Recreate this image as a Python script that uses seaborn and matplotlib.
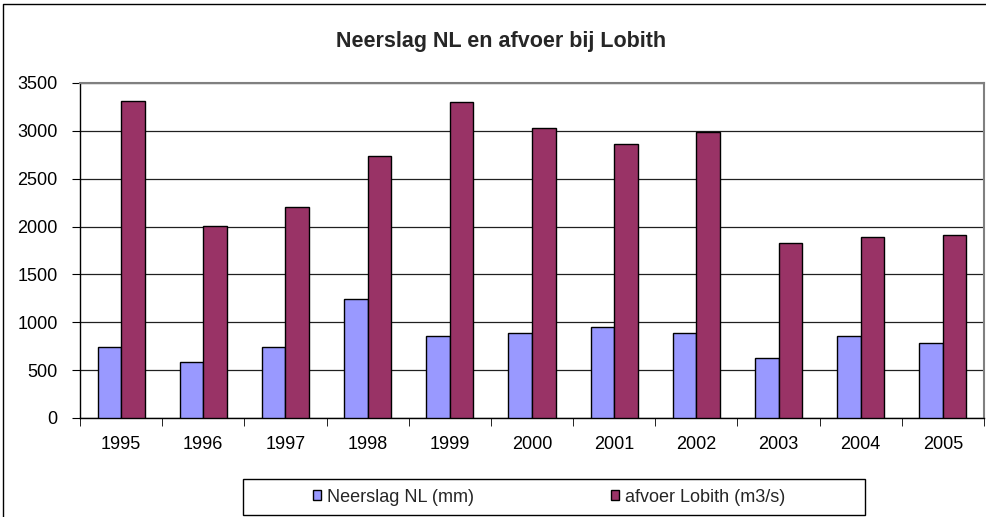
import pandas as pd
import seaborn as sns
import matplotlib.pyplot as plt
from matplotlib.patches import Rectangle
from matplotlib.lines import Line2D

# Data
jaren = ["1995", "1996", "1997", "1998", "1999", "2000",
         "2001", "2002", "2003", "2004", "2005"]
neerslag = [738, 580, 738, 1245, 860, 888, 951, 888, 629, 860, 783]
afvoer = [3310, 2003, 2203, 2741, 3297, 3031, 2867, 2993, 1832, 1895, 1913]

serie_namen = ["Neerslag NL (mm)", "afvoer Lobith (m3/s)"]
kleuren = ["#9999FF", "#993366"]

df = pd.DataFrame({"Jaar": jaren, serie_namen[0]: neerslag, serie_namen[1]: afvoer})
df_long = df.melt(id_vars="Jaar", var_name="Serie", value_name="Waarde")

sns.set_style("white")
plt.rcParams["font.family"] = ["Liberation Sans", "DejaVu Sans"]

W, H = 987, 517
fig = plt.figure(figsize=(W / 100, H / 100), dpi=100)
ax = fig.add_axes([80 / W, 1 - 418 / H, 904 / W, 335 / H])

sns.barplot(data=df_long, x="Jaar", y="Waarde", hue="Serie",
            palette=kleuren, width=0.572, gap=0, edgecolor="black",
            linewidth=1, saturation=1, ax=ax, legend=False, zorder=3)

ax.set_ylim(0, 3500)
ax.set_xlim(-0.5, len(jaren) - 0.5)
ax.set_yticks(range(0, 3501, 500))
ax.yaxis.grid(True, color="#202020", linewidth=0.9, zorder=0)
ax.set_xlabel("")
ax.set_ylabel("")
ax.tick_params(axis="x", which="major", length=0, labelsize=13, pad=13, colors="black")
ax.tick_params(axis="y", length=6, labelsize=13, pad=10, colors="black", left=True)
ax.set_xticks([i - 0.5 for i in range(len(jaren) + 1)], minor=True)
ax.tick_params(axis="x", which="minor", length=6, color="black", bottom=True, direction="out")

for kant in ["left", "bottom"]:
    ax.spines[kant].set_color("black")
    ax.spines[kant].set_linewidth(1)
for kant in ["top", "right"]:
    ax.spines[kant].set_color("#808080")
    ax.spines[kant].set_linewidth(1.5)

fig.text(501 / W, 1 - 41 / H, "Neerslag NL en afvoer bij Lobith",
         ha="center", va="center", fontsize=15.5, fontweight="bold")

# Legend (frame drawn separately so it can be as wide as the original)
fig.patches.append(Rectangle((243 / W, 1 - 515 / H), 622 / W, 36 / H,
                             transform=fig.transFigure, facecolor="white",
                             edgecolor="black", linewidth=1, zorder=1))
handles = [Rectangle((0, 0), 1, 1, facecolor=k, edgecolor="black", linewidth=1) for k in kleuren]
leg = fig.legend(handles, serie_namen, loc="center", ncol=2,
                 bbox_to_anchor=(549 / W, 1 - 497 / H),
                 frameon=False, fontsize=13, handlelength=0.45, handleheight=0.45,
                 handletextpad=0.3, columnspacing=7.6, borderpad=0.2)
leg.set_zorder(2)

# Chart border (top and left visible)
fig.lines.append(Line2D([3 / W, 3 / W, 1], [0, 1 - 4 / H, 1 - 4 / H],
                        transform=fig.transFigure, color="black", linewidth=1))

fig.savefig("out.png", dpi=100)
